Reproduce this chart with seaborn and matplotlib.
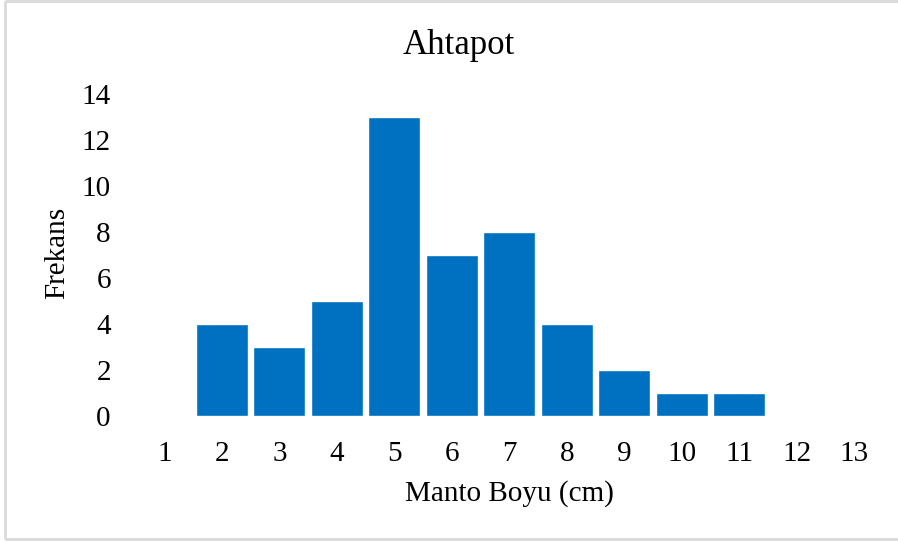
# Ahtapot - Manto Boyu histogram (bar chart)

import matplotlib
matplotlib.use("Agg")
import matplotlib.pyplot as plt
from matplotlib.lines import Line2D
import pandas as pd
import seaborn as sns

# ------------------------------------------
# Data
# ------------------------------------------

boy = ["1", "2", "3", "4", "5", "6", "7", "8", "9", "10", "11", "12", "13"]
frekans = [0, 4, 3, 5, 13, 7, 8, 4, 2, 1, 1, 0, 0]

df = pd.DataFrame({"Boy": boy, "Frekans": frekans})

# ------------------------------------------
# Plot
# ------------------------------------------

sns.set_style("white")
plt.rcParams["font.family"] = ["Liberation Serif", "DejaVu Serif"]
plt.rcParams["text.color"] = "black"
plt.rcParams["axes.labelcolor"] = "black"

W, H = 898, 541
fig = plt.figure(figsize=(W / 100, H / 100), dpi=100)
fig.patch.set_edgecolor("white")
fig.patch.set_linewidth(0)
ax = fig.add_axes([135.75 / W, 1 - 415.7 / H, 747.25 / W, 321.2 / H])

sns.barplot(
    data=df,
    x="Boy",
    y="Frekans",
    color="#0070C0",
    saturation=1,
    width=0.905,
    ax=ax
)

ax.set_xlim(-0.5, len(boy) - 0.5)
ax.set_ylim(0, 14)
ax.set_yticks(range(0, 15, 2))

for s in ax.spines.values():
    s.set_visible(False)

ax.tick_params(axis="both", length=0, labelsize=21, colors="black")
ax.tick_params(axis="y", pad=18)
ax.tick_params(axis="x", pad=18)

ax.set_xlabel("Manto Boyu (cm)", fontsize=21)
ax.xaxis.label.set_va("center")
ax.xaxis.set_label_coords(0.5, (415.7 - 494) / 321.2)

ax.set_ylabel("Frekans", fontsize=21)
ax.yaxis.label.set_va("center")
ax.yaxis.set_label_coords((57 - 135.75) / 747.25, (415.7 - 253) / 321.2)

fig.text(459 / W, 1 - 46 / H, "Ahtapot", fontsize=25, ha="center", va="center")

# light gray frame (left, top, bottom) around the chart area
frame = dict(color="#d9d9d9", linewidth=2, transform=fig.transFigure,
             solid_capstyle="butt")
fig.lines.append(Line2D([5 / W, 5 / W], [2 / H, 1 - 1 / H], **frame))
fig.lines.append(Line2D([5 / W, 1], [1 - 1 / H, 1 - 1 / H], **frame))
fig.lines.append(Line2D([5 / W, 1], [2 / H, 2 / H], **frame))

plt.savefig("out.png", dpi=100)
